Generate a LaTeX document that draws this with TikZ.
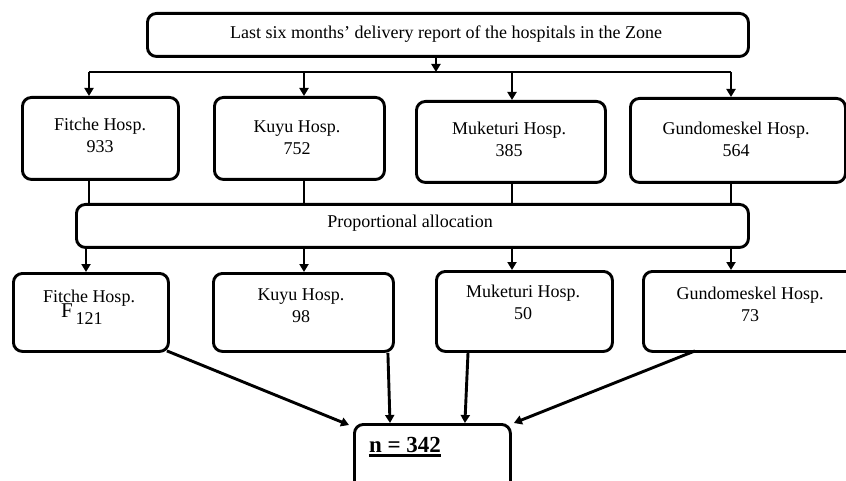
\documentclass[tikz,border=0pt]{standalone}
\usepackage{fontspec}
\setmainfont{Liberation Serif}
\usetikzlibrary{arrows.meta}
\tikzset{
  box/.style={draw, line width=2.9pt, rounded corners=9pt, inner sep=0pt, anchor=north west},
  lbl/.style={align=center, inner sep=0pt, font=\fontsize{18}{22}\selectfont},
  conn/.style={line width=2.9pt, -{Triangle[length=8pt,width=9pt]}},
  link/.style={line width=2.9pt}
}
\begin{document}
\begin{tikzpicture}[x=1pt,y=-1pt]
\path[use as bounding box, clip] (0,0) rectangle (846,481);
\fill[white] (0,0) rectangle (846,481);
% top box
\node[box, minimum width=601pt, minimum height=43pt] (top) at (146,12) {};
\node[lbl] (toptext) at (446,34) {Last six months’ delivery report of the hospitals in the Zone};
% bar
\coordinate (b1) at (89,72);
\coordinate (b2) at (304,72);
\coordinate (b3) at (512,72);
\coordinate (b4) at (731,72);
\draw[link] (b1) -- (b4);
\draw[conn] ([xshift=-12pt]top.south) -- ([xshift=-12pt]top.south |- b1);
% row 1
\node[box, minimum width=156pt, minimum height=82pt] (f1) at (21,96) {};
\node[box, minimum width=170pt, minimum height=82pt] (k1) at (213,96) {};
\node[box, minimum width=189pt, minimum height=81pt] (m1) at (415,100) {};
\node[box, minimum width=215pt, minimum height=84pt] (g1) at (629,97) {};
\node[lbl] (f1t) at (100,135) {Fitche Hosp.\\933};
\node[lbl] (k1t) at (297,138) {Kuyu Hosp.\\752};
\node[lbl] (m1t) at (509,139) {Muketuri Hosp.\\385};
\node[lbl] (g1t) at (736,139) {Gundomeskel Hosp.\\564};
\draw[conn] (b1) -- (f1.north -| b1);
\draw[conn] (b2) -- (k1.north -| b2);
\draw[conn] (b3) -- (m1.north -| b3);
\draw[conn] (b4) -- (g1.north -| b4);
% proportional allocation
\node[box, minimum width=672pt, minimum height=43pt] (prop) at (75,203) {};
\node[lbl] (propt) at (410,223) {Proportional allocation};
\draw[link] (f1.south -| b1) -- (prop.north -| b1);
\draw[link] (k1.south -| b2) -- (prop.north -| b2);
\draw[link] (m1.south -| b3) -- (prop.north -| b3);
\draw[link] (g1.south -| b4) -- (prop.north -| b4);
% row 2
\node[box, minimum width=155pt, minimum height=78pt] (f2) at (12,272) {};
\node[box, minimum width=180pt, minimum height=78pt] (k2) at (212,272) {};
\node[box, minimum width=176pt, minimum height=80pt] (m2) at (435,270) {};
\node[box, minimum width=230pt, minimum height=80pt] (g2) at (642,270) {};
\coordinate (c1) at (86,0);
\draw[conn] (prop.south -| c1) -- (f2.north -| c1);
\draw[conn] (prop.south -| b2) -- (k2.north -| b2);
\draw[conn] (prop.south -| b3) -- (m2.north -| b3);
\draw[conn] (prop.south -| b4) -- (g2.north -| b4);
\node[lbl] (f2t) at (89,307) {Fitche Hosp.\\121};
\node[inner sep=0pt, font=\fontsize{21}{24}\selectfont] (fstray) at (67,311) {F};
\node[lbl] (k2t) at (301,306) {Kuyu Hosp.\\98};
\node[lbl] (m2t) at (523,302) {Muketuri Hosp.\\50};
\node[lbl] (g2t) at (750,304) {Gundomeskel Hosp.\\73};
% bottom box
\node[box, minimum width=156pt, minimum height=80pt] (n) at (353,423) {};
\node[inner sep=0pt, font=\bfseries\fontsize{23}{27}\selectfont] (nt) at (405,445) {n = 342};
\draw[line width=2.6pt] ([yshift=-3pt]nt.base west) -- ([yshift=-3pt]nt.base east);
\draw[conn] ([xshift=-3pt,yshift=2pt]f2.south east) -- ([xshift=-4pt,yshift=-2pt]n.north west);
\draw[conn] ([xshift=-7pt]k2.south east) -- ([xshift=37pt]n.north west);
\draw[conn] ([xshift=33pt]m2.south west) -- ([xshift=-47pt]n.north east);
\draw[conn] ([xshift=53pt,yshift=2pt]g2.south west) -- ([xshift=2pt]n.north east);
\end{tikzpicture}
\end{document}
